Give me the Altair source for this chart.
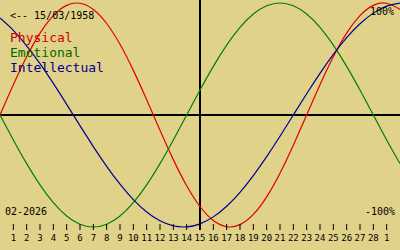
import altair as alt
import pandas as pd

# day offsets from 31/01/2026 (0) to 02/03/2026 (30)
days = list(range(0, 31))
physical = [0.0, 0.2698, 0.5197, 0.7308, 0.8879, 0.9791, 0.9977, 0.9423, 0.8170, 0.6311,
            0.3984, 0.1362, -0.1362, -0.3984, -0.6311, -0.8170, -0.9423, -0.9977, -0.9791, -0.8879,
            -0.7308, -0.5197, -0.2698, 0.0, 0.2698, 0.5197, 0.7308, 0.8879, 0.9791, 0.9977, 0.9423]
emotional = [0.0, -0.2225, -0.4339, -0.6235, -0.7818, -0.9010, -0.9749, -1.0, -0.9749, -0.9010,
             -0.7818, -0.6235, -0.4339, -0.2225, 0.0, 0.2225, 0.4339, 0.6235, 0.7818, 0.9010,
             0.9749, 1.0, 0.9749, 0.9010, 0.7818, 0.6235, 0.4339, 0.2225, 0.0, -0.2225, -0.4339]
intellectual = [0.8660, 0.7557, 0.6182, 0.4582, 0.2817, 0.0951, -0.0951, -0.2817, -0.4582, -0.6182,
                -0.7557, -0.8660, -0.9450, -0.9898, -0.9989, -0.9718, -0.9096, -0.8146, -0.6901, -0.5406,
                -0.3717, -0.1893, 0.0, 0.1893, 0.3717, 0.5406, 0.6901, 0.8146, 0.9096, 0.9718, 0.9989]

series_names = ["Physical", "Emotional", "Intellectual"]
series_colors = ["#E00000", "#008000", "#000090"]
text_colors = ["#D00000", "#006800", "#000088"]

tick_pos = list(range(1, 30))
tick_labels = [str(i) for i in range(1, 29)] + ["1"]

birth_text = "<-- 15/03/1958"
month_text = "02-2026"
top_text = "100%"
bottom_text = "-100%"

BG = "#E1D28A"
MONO = "DejaVu Sans Mono"

rows = []
for name, vals in zip(series_names, [physical, emotional, intellectual]):
    for d, v in zip(days, vals):
        rows.append({"day": d, "value": v, "series": name})
df = pd.DataFrame(rows)
ticks = pd.DataFrame({"pos": tick_pos, "label": tick_labels})

xscale = alt.Scale(domain=[0, 30], range=[0, 400], nice=False, zero=False)
yscale = alt.Scale(domain=[-1, 1], range=[227, 3], nice=False, zero=False)

base_axes = alt.Chart(pd.DataFrame({"a": [0]}))
hline = base_axes.mark_rule(color="black", strokeWidth=2).encode(
    x=alt.value(0), x2=alt.value(400), y=alt.value(115))
vline = base_axes.mark_rule(color="black", strokeWidth=2).encode(
    x=alt.value(200), y=alt.value(0), y2=alt.value(230))

lines = alt.Chart(df).mark_line(strokeWidth=1.2, interpolate="natural").encode(
    x=alt.X("day:Q", scale=xscale, axis=None),
    y=alt.Y("value:Q", scale=yscale, axis=None),
    color=alt.Color("series:N", scale=alt.Scale(domain=series_names, range=series_colors), legend=None),
    detail="series:N",
)

tick_marks = alt.Chart(ticks).mark_rule(color="black", strokeWidth=1).encode(
    x=alt.X("pos:Q", scale=xscale, axis=None),
    y=alt.value(224), y2=alt.value(230))
tick_text = alt.Chart(ticks).mark_text(font=MONO, fontSize=9, color="black", baseline="middle").encode(
    x=alt.X("pos:Q", scale=xscale, axis=None),
    y=alt.value(238), text="label:N")

def label(txt, x, y, size, color, align="left"):
    return alt.Chart(pd.DataFrame({"t": [txt]})).mark_text(
        font=MONO, fontSize=size, color=color, align=align, baseline="middle").encode(
        x=alt.value(x), y=alt.value(y), text="t:N")

texts = [
    label(birth_text, 10, 16, 10, "black"),
    label(series_names[0], 10, 38, 13, text_colors[0]),
    label(series_names[1], 10, 53, 13, text_colors[1]),
    label(series_names[2], 10, 68, 13, text_colors[2]),
    label(month_text, 5, 212, 10, "black"),
    label(top_text, 394, 12, 10, "black", "right"),
    label(bottom_text, 395, 212, 10, "black", "right"),
]

chart = alt.layer(hline, vline, lines, tick_marks, tick_text, *texts).properties(
    width=400, height=250, background=BG, padding=0,
    autosize=alt.AutoSizeParams(type="none"),
).configure_view(stroke=None, fill=BG)

chart.save("out.html", embed_options={"renderer": "svg", "actions": False})
